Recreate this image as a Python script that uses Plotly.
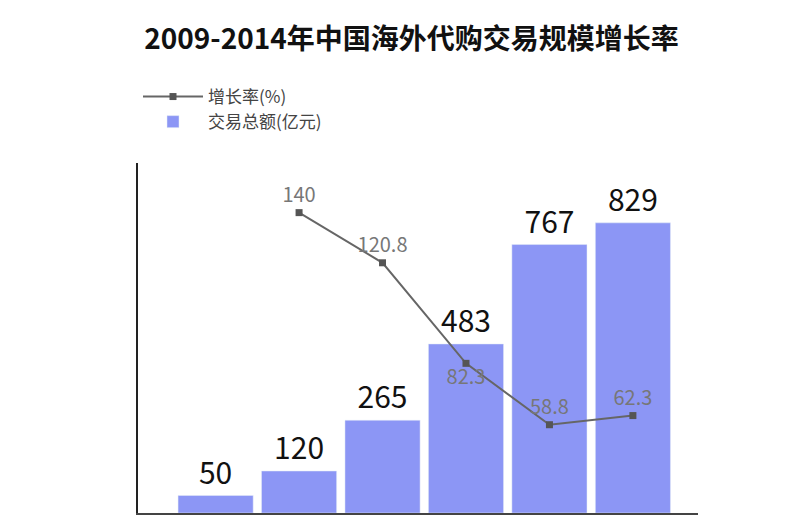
import plotly.graph_objects as go

years = ["2009", "2010", "2011", "2012", "2013", "2014"]
amount = [50, 120, 265, 483, 767, 829]
growth_years = ["2010", "2011", "2012", "2013", "2014"]
growth = [140, 120.8, 82.3, 58.8, 62.3]

font = "Noto Sans CJK SC"

fig = go.Figure()
fig.add_trace(go.Bar(
    x=years, y=amount, name="交易总额(亿元)",
    marker_color="#8c96f5",
    text=[str(v) for v in amount], textposition="outside",
    textfont=dict(size=30, color="#111"), cliponaxis=False,
))
fig.add_trace(go.Scatter(
    x=growth_years, y=growth, name="增长率(%)", yaxis="y2",
    mode="lines+markers+text",
    line=dict(color="#666", width=2),
    marker=dict(symbol="square", size=7, color="#555"),
    text=[str(v) for v in growth],
    textposition=["top center", "top center", "bottom center", "top center", "top center"],
    textfont=dict(size=20, color="#777"), cliponaxis=False,
))

fig.update_layout(
    width=807, height=524,
    font=dict(family=font),
    title=dict(text="<b>2009-2014年中国海外代购交易规模增长率</b>", x=0.5, y=0.94,
               xanchor="center", yanchor="middle", font=dict(size=28, color="#111")),
    plot_bgcolor="white", paper_bgcolor="white",
    margin=dict(l=130, r=117, t=155, b=19, autoexpand=False),
    bargap=0.1,
    showlegend=True,
    legend=dict(x=0, y=1.24, xanchor="left", yanchor="top", itemwidth=60,
                font=dict(size=17, color="#444"), traceorder="reversed",
                bgcolor="rgba(0,0,0,0)"),
    xaxis=dict(type="category", range=[-0.93, 5.78], showticklabels=False,
               showline=True, linecolor="#444", linewidth=2, ticks=""),
    yaxis=dict(range=[0, 1000], showticklabels=False, showgrid=False,
               showline=True, linecolor="#222", linewidth=2, zeroline=False),
    yaxis2=dict(range=[25, 159], overlaying="y", showticklabels=False,
                showgrid=False, zeroline=False),
)

fig.write_html("out.html")
